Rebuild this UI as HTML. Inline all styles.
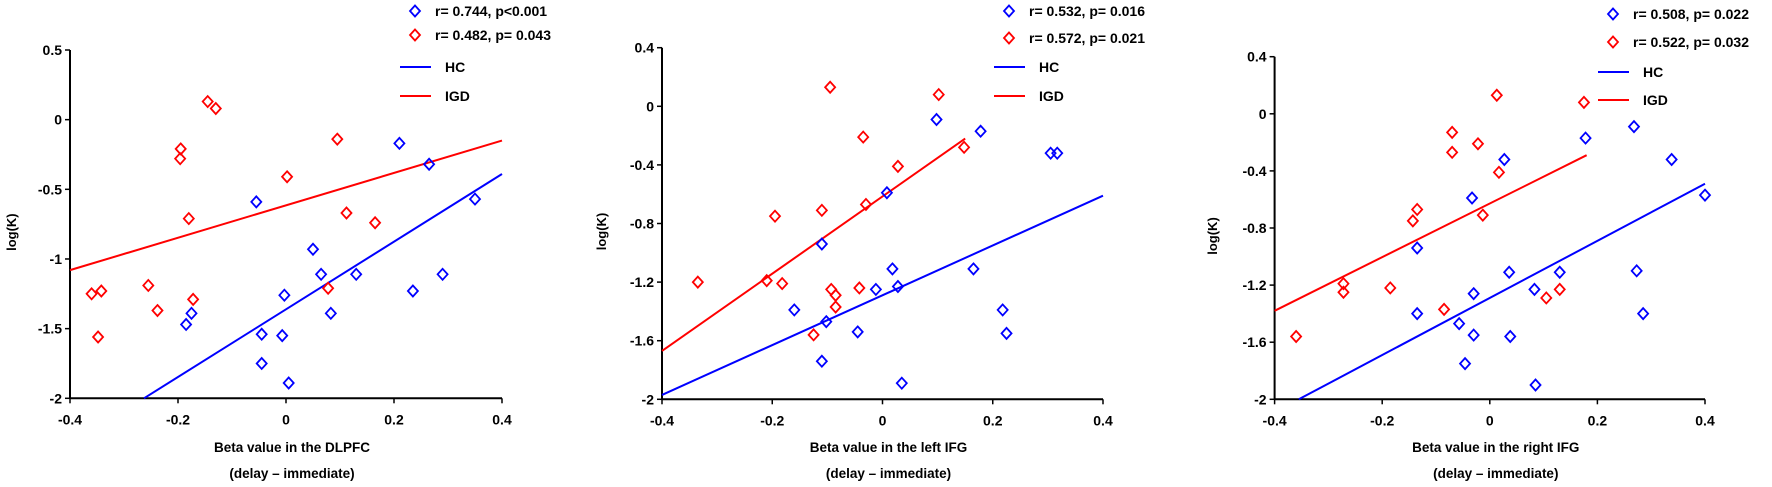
<!DOCTYPE html>
<html><head><meta charset="utf-8">
<style>
html,body{margin:0;padding:0;background:#fff;}
svg{display:block;font-family:"Liberation Sans",Arial,sans-serif;font-weight:bold;}
</style></head>
<body>
<svg id="chart" width="1772" height="487" viewBox="0 0 1772 487" xmlns="http://www.w3.org/2000/svg"></svg>
<script>
// Panel 1 (DLPFC)
const p1HcX = [-0.055,0.21,0.265,0.35,0.05,0.065,0.13,0.29,0.235,-0.003,0.083,-0.175,-0.185,-0.045,-0.007,-0.045,0.005];
const p1HcY = [-0.59,-0.17,-0.32,-0.57,-0.93,-1.11,-1.11,-1.11,-1.23,-1.26,-1.39,-1.39,-1.47,-1.54,-1.55,-1.75,-1.89];
const p1IgdX = [-0.145,-0.13,-0.195,-0.196,0.095,0.002,-0.18,0.112,0.165,0.078,-0.255,-0.36,-0.342,-0.172,-0.238,-0.348];
const p1IgdY = [0.13,0.08,-0.21,-0.28,-0.14,-0.41,-0.71,-0.67,-0.74,-1.21,-1.19,-1.25,-1.23,-1.29,-1.37,-1.56];
const p1HcLine = [[-0.263,-2],[0.4,-0.39]];
const p1IgdLine = [[-0.4,-1.08],[0.4,-0.15]];
const p1YTicks = [0.5,0,-0.5,-1,-1.5,-2];
const p1YLabels = ["0.5","0","-0.5","-1","-1.5","-2"];
const p1Stats = ["r= 0.744, p<0.001","r= 0.482, p= 0.043"];
// Panel 2 (left IFG)
const p2HcX = [0.098,0.178,0.305,0.317,0.008,-0.11,0.018,0.165,0.028,-0.012,-0.16,0.218,-0.102,-0.045,0.225,-0.11,0.035];
const p2HcY = [-0.09,-0.17,-0.32,-0.32,-0.59,-0.94,-1.11,-1.11,-1.23,-1.25,-1.39,-1.39,-1.47,-1.54,-1.55,-1.74,-1.89];
const p2IgdX = [-0.095,0.102,-0.035,0.148,0.028,-0.03,-0.11,-0.195,-0.335,-0.21,-0.182,-0.093,-0.042,-0.085,-0.085,-0.125];
const p2IgdY = [0.13,0.08,-0.21,-0.28,-0.41,-0.67,-0.71,-0.75,-1.2,-1.19,-1.21,-1.25,-1.24,-1.29,-1.37,-1.56];
const p2HcLine = [[-0.4,-1.97],[0.4,-0.61]];
const p2IgdLine = [[-0.4,-1.67],[0.15,-0.22]];
const p2YTicks = [0.4,0,-0.4,-0.8,-1.2,-1.6,-2];
const p2YLabels = ["0.4","0","-0.4","-0.8","-1.2","-1.6","-2"];
const p2Stats = ["r= 0.532, p= 0.016","r= 0.572, p= 0.021"];
// Panel 3 (right IFG)
const p3HcX = [0.268,0.178,0.027,0.338,0.4,-0.033,-0.135,0.036,0.13,0.273,0.083,-0.03,-0.135,0.285,-0.057,-0.03,0.038,-0.046,0.085];
const p3HcY = [-0.09,-0.17,-0.32,-0.32,-0.57,-0.59,-0.94,-1.11,-1.11,-1.1,-1.23,-1.26,-1.4,-1.4,-1.47,-1.55,-1.56,-1.75,-1.9];
const p3IgdX = [0.013,0.175,-0.07,-0.022,-0.07,0.017,-0.135,-0.143,-0.013,-0.272,-0.272,-0.185,0.105,0.13,-0.085,-0.36];
const p3IgdY = [0.13,0.08,-0.13,-0.21,-0.27,-0.41,-0.67,-0.75,-0.71,-1.19,-1.25,-1.22,-1.29,-1.23,-1.37,-1.56];
const p3HcLine = [[-0.355,-2],[0.4,-0.49]];
const p3IgdLine = [[-0.4,-1.38],[0.18,-0.29]];
const p3YTicks = [0.4,0,-0.4,-0.8,-1.2,-1.6,-2];
const p3YLabels = ["0.4","0","-0.4","-0.8","-1.2","-1.6","-2"];
const p3Stats = ["r= 0.508, p= 0.022","r= 0.522, p= 0.032"];

const xTicks = [-0.4,-0.2,0,0.2,0.4];
const xLabels = ["-0.4","-0.2","0","0.2","0.4"];

const NS = "http://www.w3.org/2000/svg";
const svg = document.getElementById('chart');
function mk(tag, attrs, parent){
  const e = document.createElementNS(NS, tag);
  for (const k in attrs) e.setAttribute(k, attrs[k]);
  (parent||svg).appendChild(e);
  return e;
}
function txt(s, attrs, parent){ const e = mk('text', attrs, parent); e.textContent = s; return e; }

function panel(cfg){
  const g = mk('g', {});
  
  
  const xs = v => cfg.x0 + (v - (-0.4)) / 0.8 * (cfg.x1 - cfg.x0);
  const ys = v => cfg.yB + (v - (-2)) / (cfg.yMax + 2) * (cfg.yT - cfg.yB);
  // axes
  const ya = mk('line', {x1:cfg.x0, y1:cfg.yT, x2:cfg.x0, y2:cfg.yB, stroke:'#000','stroke-width':2}, g);
  
  
  const xa = mk('line', {x1:cfg.x0, y1:cfg.yB, x2:cfg.x1, y2:cfg.yB, stroke:'#000','stroke-width':2}, g);
  
  
  cfg.yTicks.forEach((v,i) => {
    const y = ys(v);
    mk('line', {x1:cfg.x0-5, y1:y, x2:cfg.x0, y2:y, stroke:'#000','stroke-width':1.5}, g);
    const t = txt(cfg.yLabels[i], {x:cfg.x0-8, y:y+5, 'text-anchor':'end','font-size':14}, g);
    
    
  });
  xTicks.forEach((v,i) => {
    const x = xs(v);
    mk('line', {x1:x, y1:cfg.yB, x2:x, y2:cfg.yB+5, stroke:'#000','stroke-width':1.5}, g);
    const t = txt(xLabels[i], {x:x, y:cfg.yB+26, 'text-anchor':'middle','font-size':14}, g);
    
    
  });
  const yt = txt('log(K)', {x:0, y:0, 'text-anchor':'middle','font-size':13, transform:`translate(${cfg.ylx},${(cfg.yT+cfg.yB)/2+8}) rotate(-90)`}, g);
  
  
  const cx = (cfg.x0 + cfg.x1)/2 + 6;
  const xt1 = txt(cfg.xTitle, {x:cx, y:452, 'text-anchor':'middle','font-size':13.5}, g);
  
  
  const xt2 = txt('(delay \u2013 immediate)', {x:cx, y:478, 'text-anchor':'middle','font-size':13.5}, g);
  
  
  // fit lines
  const hl = mk('line', {x1:xs(cfg.hcLine[0][0]), y1:ys(cfg.hcLine[0][1]), x2:xs(cfg.hcLine[1][0]), y2:ys(cfg.hcLine[1][1]), stroke:'#0000ff','stroke-width':2}, g);
  
  
  const il = mk('line', {x1:xs(cfg.igdLine[0][0]), y1:ys(cfg.igdLine[0][1]), x2:xs(cfg.igdLine[1][0]), y2:ys(cfg.igdLine[1][1]), stroke:'#ff0000','stroke-width':2}, g);
  
  
  const dia = (x,y,c,p) => mk('path', {d:`M${x} ${y-5.5}L${x+5} ${y}L${x} ${y+5.5}L${x-5} ${y}Z`, fill:'none', stroke:c, 'stroke-width':1.8}, p);
  cfg.hcX.forEach((v,i) => {
    const d = dia(xs(v), ys(cfg.hcY[i]), '#0000ff', g);
    
    
  });
  cfg.igdX.forEach((v,i) => {
    const d = dia(xs(v), ys(cfg.igdY[i]), '#ff0000', g);
    
    
  });
  // legend
  const lg = mk('g', {}, g);
  
  
  dia(cfg.lx, cfg.ly1, '#0000ff', lg);
  const s1 = txt(cfg.stats[0], {x:cfg.lx+20, y:cfg.ly1+5, 'font-size':14}, lg);
  
  
  dia(cfg.lx, cfg.ly2, '#ff0000', lg);
  const s2 = txt(cfg.stats[1], {x:cfg.lx+20, y:cfg.ly2+5, 'font-size':14}, lg);
  
  
  mk('line', {x1:cfg.lx-15, y1:cfg.ly3, x2:cfg.lx+16, y2:cfg.ly3, stroke:'#0000ff','stroke-width':2}, lg);
  const h = txt('HC', {x:cfg.lx+30, y:cfg.ly3+5, 'font-size':14}, lg);
  
  
  mk('line', {x1:cfg.lx-15, y1:cfg.ly4, x2:cfg.lx+16, y2:cfg.ly4, stroke:'#ff0000','stroke-width':2}, lg);
  const ig = txt('IGD', {x:cfg.lx+30, y:cfg.ly4+5, 'font-size':14}, lg);
  
  
}

panel({name:'dlpfc-panel', x0:70, x1:502, yT:50, yB:398.3, yMax:0.5, ylx:16,
  hcX:p1HcX, hcY:p1HcY, igdX:p1IgdX, igdY:p1IgdY, hcLine:p1HcLine, igdLine:p1IgdLine,
  yTicks:p1YTicks, yLabels:p1YLabels, stats:p1Stats, xTitle:'Beta  value in the DLPFC',
  lx:415, ly1:11, ly2:35, ly3:67, ly4:96});
panel({name:'left-ifg-panel', x0:662, x1:1103, yT:47.7, yB:399.3, yMax:0.4, ylx:606,
  hcX:p2HcX, hcY:p2HcY, igdX:p2IgdX, igdY:p2IgdY, hcLine:p2HcLine, igdLine:p2IgdLine,
  yTicks:p2YTicks, yLabels:p2YLabels, stats:p2Stats, xTitle:'Beta  value in the left IFG',
  lx:1009, ly1:11, ly2:38, ly3:67, ly4:96});
panel({name:'right-ifg-panel', x0:1274.6, x1:1705, yT:56.7, yB:399.3, yMax:0.4, ylx:1217,
  hcX:p3HcX, hcY:p3HcY, igdX:p3IgdX, igdY:p3IgdY, hcLine:p3HcLine, igdLine:p3IgdLine,
  yTicks:p3YTicks, yLabels:p3YLabels, stats:p3Stats, xTitle:'Beta  value in the right IFG',
  lx:1613, ly1:14, ly2:42, ly3:72, ly4:100});
</script>
</body></html>
